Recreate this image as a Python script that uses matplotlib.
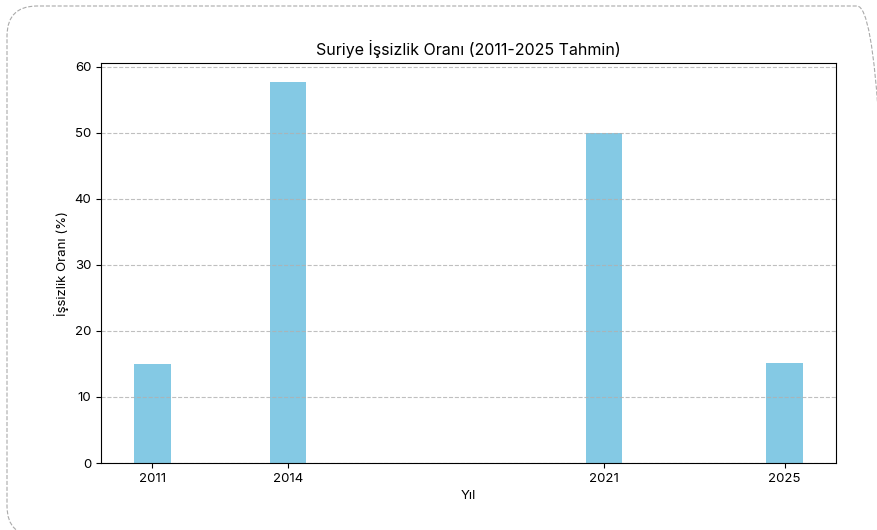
import matplotlib
matplotlib.use("Agg")
import matplotlib.pyplot as plt
from matplotlib.patches import FancyBboxPatch
from matplotlib.transforms import IdentityTransform

years = [2011, 2014, 2021, 2025]
rates = [15.0, 57.7, 50.0, 15.1]
title = "Suriye İşsizlik Oranı (2011-2025 Tahmin)"
xlabel = "Yıl"
ylabel = "İşsizlik Oranı (%)"

plt.rcParams['font.family'] = ['Inter', 'DejaVu Sans']

fig = plt.figure(figsize=(8.78, 5.30), dpi=100)
ax = fig.add_axes([101/878, 1-463/530, (836-101)/878, (463-63)/530])

ax.bar(years, rates, width=0.8, color='#84c9e4')
ax.set_xticks(years)
ax.set_xticklabels([str(y) for y in years])
ax.set_title(title, fontsize=11.5)
ax.set_xlabel(xlabel, fontsize=9.5)
ax.set_ylabel(ylabel, fontsize=9.5)
ax.tick_params(labelsize=9.5)
ax.yaxis.grid(True, linestyle='--', color='#b0b0b0', alpha=0.8)

border = FancyBboxPatch((7, -6), 880, 530, transform=IdentityTransform(),
                        boxstyle="round,pad=0,rounding_size=30",
                        fill=False, edgecolor='#aaaaaa', linestyle='--',
                        linewidth=0.8)
fig.patches.append(border)

fig.savefig("out.png", dpi=100)
